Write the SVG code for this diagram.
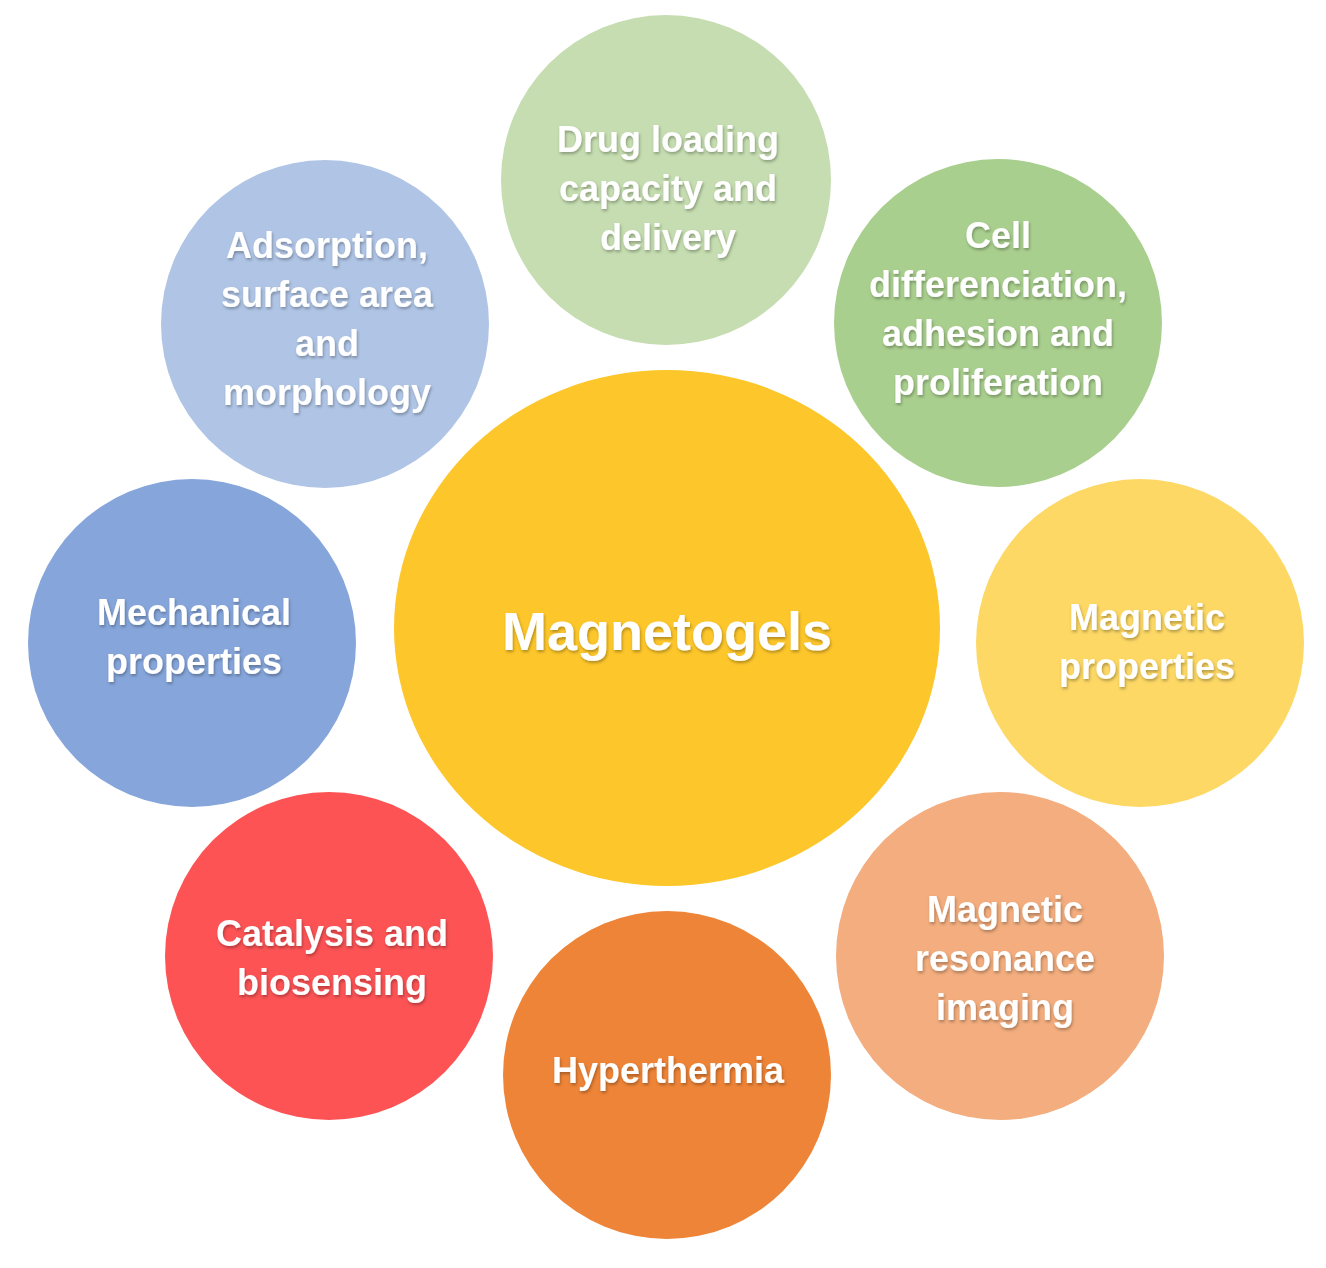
<svg xmlns="http://www.w3.org/2000/svg" width="1326" height="1268" viewBox="0 0 1326 1268">
<style>
text{font-family:"Liberation Sans",Arial,sans-serif;font-weight:bold;fill:#fff;text-anchor:middle;font-size:36px}
.c{font-size:54px}
</style>
<defs><filter id="s" x="-10%" y="-10%" width="120%" height="120%"><feDropShadow dx="1" dy="2" stdDeviation="1.5" flood-color="#000" flood-opacity="0.3"/></filter></defs>
<rect width="1326" height="1268" fill="#fff"/>
<g id="center"><ellipse cx="667" cy="628" rx="273" ry="258" fill="#FDC62A"/><text class="c" x="667" y="650" filter="url(#s)">Magnetogels</text></g>
<g id="drug"><circle cx="666" cy="180" r="165" fill="#C5DDB0"/><text filter="url(#s)" x="668" y="152">Drug loading<tspan x="668" dy="49">capacity and</tspan><tspan x="668" dy="49">delivery</tspan></text></g>
<g id="cell"><circle cx="998" cy="323" r="164" fill="#A9CF8E"/><text filter="url(#s)" x="998" y="248">Cell<tspan x="998" dy="49">differenciation,</tspan><tspan x="998" dy="49">adhesion and</tspan><tspan x="998" dy="49">proliferation</tspan></text></g>
<g id="magprop"><circle cx="1140" cy="643" r="164" fill="#FDD865"/><text filter="url(#s)" x="1147" y="630">Magnetic<tspan x="1147" dy="49">properties</tspan></text></g>
<g id="mri"><circle cx="1000" cy="956" r="164" fill="#F3AD7E"/><text filter="url(#s)" x="1005" y="922">Magnetic<tspan x="1005" dy="49">resonance</tspan><tspan x="1005" dy="49">imaging</tspan></text></g>
<g id="hyper"><circle cx="667" cy="1075" r="164" fill="#EE8437"/><text filter="url(#s)" x="668" y="1083">Hyperthermia</text></g>
<g id="cat"><circle cx="329" cy="956" r="164" fill="#FD5355"/><text filter="url(#s)" x="332" y="946">Catalysis and<tspan x="332" dy="49">biosensing</tspan></text></g>
<g id="mech"><circle cx="192" cy="643" r="164" fill="#86A6DB"/><text filter="url(#s)" x="194" y="625">Mechanical<tspan x="194" dy="49">properties</tspan></text></g>
<g id="ads"><circle cx="325" cy="324" r="164" fill="#B0C5E6"/><text filter="url(#s)" x="327" y="258">Adsorption,<tspan x="327" dy="49">surface area</tspan><tspan x="327" dy="49">and</tspan><tspan x="327" dy="49">morphology</tspan></text></g>
<g id="connectors"/>
</svg>
